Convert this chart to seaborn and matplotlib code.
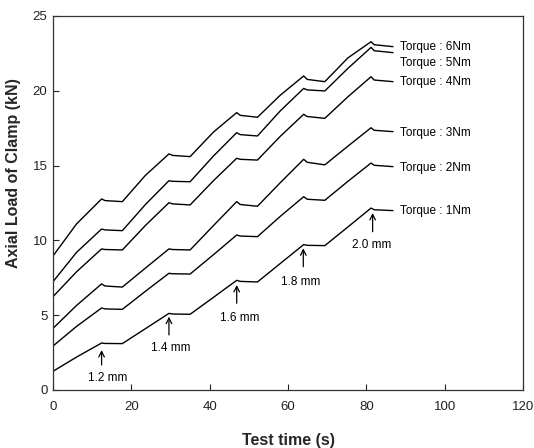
import numpy as np
import pandas as pd
import matplotlib
matplotlib.use("Agg")
import matplotlib.pyplot as plt
import seaborn as sns

# Sample times (s) at which the clamp load was recorded
time_s = [0, 6, 12.4, 13.3, 17.7, 23.6, 29.6, 30.5, 35.0, 41.0, 46.9, 47.8,
          52.2, 58.0, 64.0, 64.9, 69.4, 75.3, 81.2, 82.0, 86.8]

# Axial load of the clamp (kN) for each tightening torque
load_1nm = [1.25, 2.2, 3.14, 3.11, 3.10, 4.1, 5.12, 5.08, 5.06, 6.2, 7.33, 7.26,
            7.22, 8.45, 9.72, 9.67, 9.65, 10.9, 12.16, 12.05, 11.99]
load_2nm = [2.94, 4.25, 5.48, 5.42, 5.39, 6.6, 7.80, 7.77, 7.75, 9.05, 10.36, 10.29,
            10.25, 11.6, 12.92, 12.75, 12.68, 13.95, 15.17, 15.02, 14.93]
load_3nm = [4.12, 5.65, 7.09, 6.95, 6.88, 8.15, 9.43, 9.39, 9.36, 11.0, 12.59, 12.40,
            12.28, 13.85, 15.42, 15.22, 15.05, 16.3, 17.53, 17.36, 17.27]
load_4nm = [6.24, 7.9, 9.43, 9.39, 9.36, 11.0, 12.52, 12.44, 12.37, 14.0, 15.49, 15.42,
            15.37, 16.95, 18.43, 18.28, 18.16, 19.6, 20.94, 20.72, 20.61]
load_5nm = [7.24, 9.2, 10.76, 10.70, 10.65, 12.4, 13.99, 13.95, 13.92, 15.65, 17.20, 17.07,
            16.98, 18.65, 20.16, 20.06, 19.99, 21.5, 22.90, 22.68, 22.55]
load_6nm = [8.96, 11.1, 12.77, 12.66, 12.59, 14.35, 15.78, 15.68, 15.60, 17.25, 18.54, 18.36,
            18.23, 19.7, 20.99, 20.76, 20.61, 22.2, 23.28, 23.08, 22.95]

torque_labels = ["Torque : 1Nm", "Torque : 2Nm", "Torque : 3Nm",
                 "Torque : 4Nm", "Torque : 5Nm", "Torque : 6Nm"]
label_y = [11.97, 14.86, 17.16, 20.61, 21.88, 22.95]

# Displacement steps marked on the 1 Nm curve
step_labels = ["1.2 mm", "1.4 mm", "1.6 mm", "1.8 mm", "2.0 mm"]
step_time = [12.4, 29.6, 46.9, 63.9, 81.6]
step_tip = [2.67, 4.9, 7.02, 9.47, 11.83]
step_tail = [1.67, 3.68, 5.8, 8.24, 10.58]
step_text_x = [13.9, 30.0, 47.7, 63.2, 81.4]
step_text_y = [0.78, 2.79, 4.79, 7.24, 9.69]

sns.set_style("ticks")
plt.rcParams["font.family"] = ["Liberation Sans", "DejaVu Sans"]

series = [load_1nm, load_2nm, load_3nm, load_4nm, load_5nm, load_6nm]
df = pd.concat(
    [pd.DataFrame({"time": time_s, "load": vals, "torque": name})
     for name, vals in zip(torque_labels, series)],
    ignore_index=True,
)

fig = plt.figure(figsize=(5.34, 4.48), dpi=100)
ax = fig.add_axes([0.0993, 0.1295, 0.8801, 0.8348])

sns.lineplot(data=df, x="time", y="load", hue="torque", units="torque",
             estimator=None, palette=["black"] * 6, linewidth=1.0,
             legend=False, ax=ax)

for name, y in zip(torque_labels, label_y):
    ax.text(88.6, y, name, fontsize=8.5, va="center", ha="left", color="black")

for lab, t, tip, tail, tx, ty in zip(step_labels, step_time, step_tip, step_tail,
                                     step_text_x, step_text_y):
    ax.annotate("", xy=(t, tip), xytext=(t, tail),
                arrowprops=dict(arrowstyle="->", color="black", lw=0.9,
                                shrinkA=0, shrinkB=0))
    ax.text(tx, ty, lab, fontsize=8.5, ha="center", va="center", color="black")

ax.set_xlim(0, 120)
ax.set_ylim(0, 25)
ax.set_xticks([0, 20, 40, 60, 80, 100, 120])
ax.set_yticks([0, 5, 10, 15, 20, 25])
ax.tick_params(direction="in", length=4, width=0.8, labelsize=9.5, colors="#222222")
ax.tick_params(axis="x", pad=8)
ax.tick_params(axis="y", pad=4)
for side in ["top", "right", "left", "bottom"]:
    ax.spines[side].set_visible(True)
    ax.spines[side].set_linewidth(0.9)
    ax.spines[side].set_color("#333333")

ax.set_xlabel("Test time (s)", fontsize=11.5, fontweight="bold")
ax.set_ylabel("Axial Load of Clamp (kN)", fontsize=11.5, fontweight="bold")
ax.xaxis.set_label_coords(0.5, -0.134)
ax.xaxis.label.set_va("center")
ax.yaxis.set_label_coords(-0.084, 0.58)
ax.yaxis.label.set_va("center")

fig.savefig("out.png", dpi=100)
